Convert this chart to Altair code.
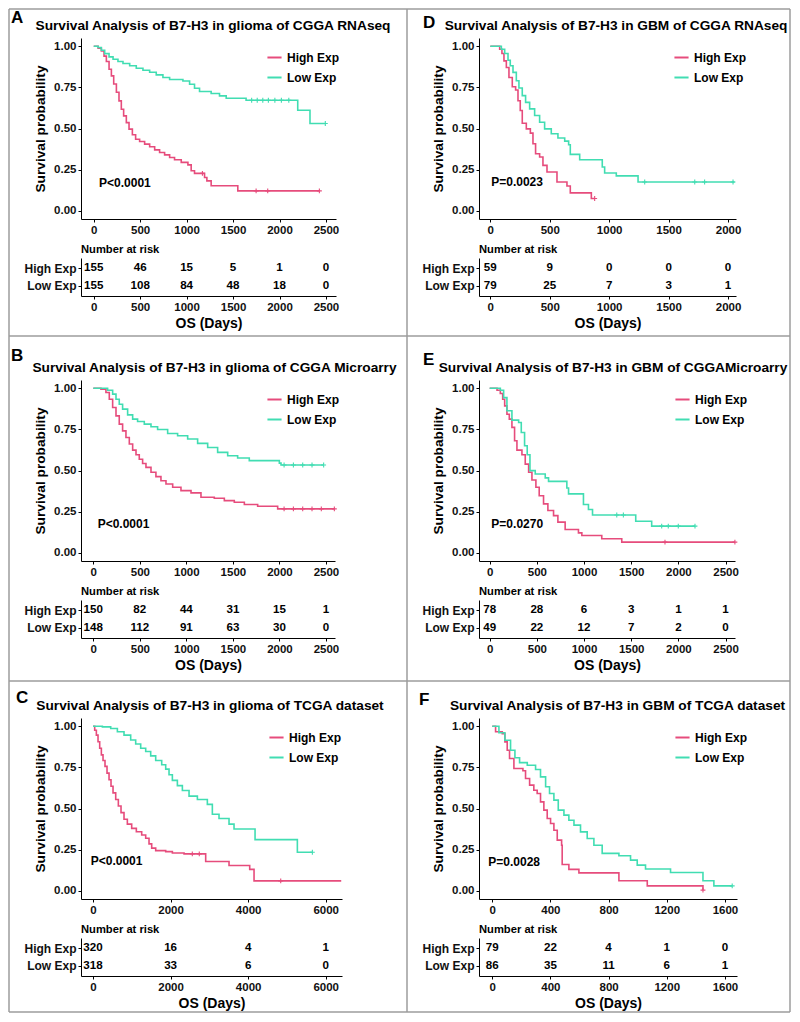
import altair as alt
import pandas as pd

FONT = "Liberation Sans"
HIGH, LOW = "High Exp", "Low Exp"
PINK, TEAL = "#E64C7C", "#41DDB2"
FRAME_COLOR = "#9C9C9C"

# ---------------- data ----------------
# Panel A: glioma, CGGA RNAseq
A_high_day = [0, 47, 82, 111, 136, 165, 190, 215, 244, 272, 297, 322, 351, 380, 416, 451, 494, 548, 602, 656,
              709, 763, 817, 870, 942, 1014, 1049, 1085, 1193, 1218, 1264, 1551, 2429]
A_high_surv = [1.0, 0.988, 0.972, 0.94, 0.907, 0.86, 0.82, 0.77, 0.72, 0.668, 0.617, 0.577, 0.536, 0.496, 0.462,
               0.435, 0.421, 0.405, 0.389, 0.37, 0.354, 0.34, 0.324, 0.31, 0.294, 0.279, 0.243, 0.227, 0.202,
               0.182, 0.152, 0.121, 0.121]
A_low_day = [0, 47, 82, 118, 165, 208, 261, 315, 387, 458, 530, 602, 673, 745, 817, 960, 1032, 1085, 1139, 1264,
             1354, 1426, 1640, 2196, 2328, 2493]
A_low_surv = [1.0, 0.992, 0.976, 0.955, 0.935, 0.921, 0.907, 0.895, 0.881, 0.866, 0.854, 0.842, 0.826, 0.81,
              0.798, 0.789, 0.769, 0.745, 0.725, 0.713, 0.698, 0.684, 0.672, 0.611, 0.53, 0.53]
A_high_cens_day = [1170, 1748, 1873, 2429]
A_high_cens_surv = [0.227, 0.121, 0.121, 0.121]
A_low_cens_day = [1700, 1760, 1820, 1880, 1950, 2020, 2100, 2493]
A_low_cens_surv = [0.672, 0.672, 0.672, 0.672, 0.672, 0.672, 0.672, 0.53]
A_risk_time = [0, 500, 1000, 1500, 2000, 2500]
A_risk_high = [155, 46, 15, 5, 1, 0]
A_risk_low = [155, 108, 84, 48, 18, 0]

# Panel D: GBM, CGGA RNAseq
D_high_day = [0, 79, 98, 115, 135, 157, 185, 213, 233, 252, 269, 303, 337, 359, 381, 415, 443, 477, 561, 645,
              673, 850, 878]
D_high_surv = [1.0, 0.982, 0.956, 0.911, 0.871, 0.81, 0.754, 0.734, 0.669, 0.609, 0.532, 0.498, 0.472, 0.407,
               0.347, 0.327, 0.276, 0.236, 0.175, 0.151, 0.109, 0.075, 0.075]
D_low_day = [0, 93, 121, 149, 168, 191, 219, 241, 269, 297, 331, 373, 415, 457, 513, 569, 626, 659, 673, 752,
             942, 962, 1060, 1243, 2056]
D_low_surv = [1.0, 0.982, 0.956, 0.915, 0.881, 0.841, 0.79, 0.746, 0.7, 0.659, 0.619, 0.579, 0.538, 0.498,
              0.468, 0.442, 0.423, 0.401, 0.343, 0.31, 0.266, 0.23, 0.212, 0.175, 0.175]
D_high_cens_day = [878]
D_high_cens_surv = [0.075]
D_low_cens_day = [1299, 1720, 1803, 2042]
D_low_cens_surv = [0.175, 0.175, 0.175, 0.175]
D_risk_time = [0, 500, 1000, 1500, 2000]
D_risk_high = [59, 9, 0, 0, 0]
D_risk_low = [79, 25, 7, 3, 1]

# Panel B: glioma, CGGA Microarray
B_high_day = [0, 82, 136, 172, 208, 244, 279, 315, 351, 387, 423, 459, 494, 530, 566, 620, 673, 727, 781, 853,
              942, 1050, 1157, 1300, 1408, 1515, 1623, 1766, 1981, 2590]
B_high_surv = [1.0, 0.994, 0.974, 0.933, 0.883, 0.832, 0.782, 0.741, 0.701, 0.661, 0.624, 0.596, 0.568, 0.543,
               0.519, 0.489, 0.463, 0.438, 0.418, 0.398, 0.378, 0.364, 0.337, 0.331, 0.317, 0.307, 0.293, 0.283,
               0.267, 0.267]
B_low_day = [0, 154, 208, 244, 279, 315, 369, 423, 476, 548, 620, 691, 799, 906, 1014, 1121, 1229, 1336, 1444,
             1551, 1676, 1999, 2017, 2475]
B_low_surv = [1.0, 0.988, 0.964, 0.933, 0.903, 0.873, 0.838, 0.812, 0.798, 0.782, 0.766, 0.749, 0.725, 0.711,
              0.691, 0.665, 0.64, 0.61, 0.59, 0.576, 0.56, 0.545, 0.533, 0.533]
B_high_cens_day = [2050, 2150, 2250, 2350, 2450, 2590]
B_high_cens_surv = [0.267, 0.267, 0.267, 0.267, 0.267, 0.267]
B_low_cens_day = [2050, 2150, 2250, 2350, 2475]
B_low_cens_surv = [0.533, 0.533, 0.533, 0.533, 0.533]
B_risk_time = [0, 500, 1000, 1500, 2000, 2500]
B_risk_high = [150, 82, 44, 31, 15, 1]
B_risk_low = [148, 112, 91, 63, 30, 0]

# Panel E: GBM, CGGA Microarray
E_high_day = [0, 78, 113, 138, 159, 183, 208, 236, 264, 289, 342, 377, 413, 448, 490, 525, 571, 617, 677, 723,
              800, 941, 977, 1188, 1400, 2599]
E_high_surv = [1.0, 0.988, 0.968, 0.933, 0.893, 0.842, 0.812, 0.762, 0.681, 0.624, 0.596, 0.539, 0.489, 0.442,
               0.398, 0.347, 0.297, 0.257, 0.226, 0.186, 0.141, 0.121, 0.105, 0.085, 0.065, 0.065]
E_low_day = [0, 113, 148, 183, 236, 307, 335, 370, 398, 427, 483, 589, 624, 818, 836, 994, 1047, 1090, 1548,
             1717, 2176]
E_low_surv = [1.0, 0.988, 0.943, 0.863, 0.806, 0.792, 0.731, 0.65, 0.596, 0.499, 0.479, 0.455, 0.434, 0.394,
              0.358, 0.293, 0.263, 0.23, 0.192, 0.162, 0.162]
E_high_cens_day = [1858, 2599]
E_high_cens_surv = [0.065, 0.065]
E_low_cens_day = [1347, 1417, 1823, 1893, 1999, 2176]
E_low_cens_surv = [0.23, 0.23, 0.162, 0.162, 0.162, 0.162]
E_risk_time = [0, 500, 1000, 1500, 2000, 2500]
E_risk_high = [78, 28, 6, 3, 1, 1]
E_risk_low = [49, 22, 12, 7, 2, 0]

# Panel C: glioma, TCGA
C_high_day = [0, 43, 86, 129, 172, 215, 258, 309, 361, 413, 464, 516, 585, 653, 722, 799, 885, 997, 1117, 1255,
              1358, 1444, 1513, 1616, 1874, 2046, 2347, 2905, 3507, 4040, 4152, 6400]
C_high_surv = [1.0, 0.976, 0.946, 0.906, 0.866, 0.826, 0.792, 0.756, 0.715, 0.675, 0.635, 0.595, 0.555, 0.515,
               0.475, 0.435, 0.405, 0.379, 0.359, 0.339, 0.319, 0.285, 0.259, 0.244, 0.238, 0.23, 0.224, 0.178,
               0.154, 0.13, 0.06, 0.06]
C_low_day = [0, 241, 456, 628, 799, 971, 1100, 1229, 1358, 1487, 1616, 1771, 1874, 1960, 2046, 2175, 2304, 2476,
             2691, 2948, 3077, 3249, 3507, 3636, 4178, 5269, 5656]
C_low_surv = [1.0, 0.996, 0.986, 0.966, 0.946, 0.916, 0.892, 0.866, 0.846, 0.82, 0.792, 0.766, 0.739, 0.705,
              0.671, 0.639, 0.609, 0.575, 0.555, 0.525, 0.465, 0.439, 0.405, 0.375, 0.311, 0.234, 0.234]
C_high_cens_day = [2560, 2740, 4840]
C_high_cens_surv = [0.224, 0.224, 0.06]
C_low_cens_day = [5656]
C_low_cens_surv = [0.234]
C_risk_time = [0, 2000, 4000, 6000]
C_risk_high = [320, 16, 4, 1]
C_risk_low = [318, 33, 6, 0]

# Panel F: GBM, TCGA
F_high_day = [0, 23, 69, 87, 103, 119, 149, 211, 229, 257, 286, 309, 332, 355, 378, 401, 424, 447, 477, 481,
              527, 596, 871, 1066, 1449]
F_high_surv = [1.0, 0.966, 0.955, 0.905, 0.854, 0.804, 0.743, 0.729, 0.682, 0.642, 0.611, 0.591, 0.54, 0.49,
               0.439, 0.409, 0.368, 0.308, 0.277, 0.16, 0.13, 0.109, 0.061, 0.03, 0.004]
F_low_day = [0, 46, 87, 126, 156, 188, 241, 298, 332, 367, 394, 424, 454, 493, 527, 562, 607, 653, 699, 756,
             871, 951, 997, 1054, 1226, 1449, 1524, 1650]
F_low_surv = [1.0, 0.96, 0.915, 0.854, 0.808, 0.779, 0.763, 0.737, 0.692, 0.632, 0.591, 0.551, 0.49, 0.46,
              0.429, 0.399, 0.358, 0.318, 0.277, 0.227, 0.213, 0.186, 0.156, 0.132, 0.111, 0.061, 0.03, 0.03]
F_high_cens_day = [1449]
F_high_cens_surv = [0.004]
F_low_cens_day = [1650]
F_low_cens_surv = [0.03]
F_risk_time = [0, 400, 800, 1200, 1600]
F_risk_high = [79, 22, 4, 1, 0]
F_risk_low = [86, 35, 11, 6, 1]

TITLES = {
    "A": "Survival Analysis of  B7-H3 in glioma of CGGA RNAseq",
    "D": "Survival Analysis of B7-H3 in GBM of CGGA RNAseq",
    "B": "Survival Analysis of B7-H3 in glioma of CGGA Microarry",
    "E": "Survival Analysis of B7-H3 in GBM of CGGAMicroarry",
    "C": "Survival Analysis of B7-H3 in glioma of TCGA dataset",
    "F": "Survival Analysis of B7-H3 in GBM of TCGA dataset",
}
PVALS = {"A": "P<0.0001", "D": "P=0.0023", "B": "P<0.0001", "E": "P=0.0270", "C": "P<0.0001", "F": "P=0.0028"}
PVAL_POS = {"A": (57, 0.166), "D": (8, 0.175), "B": (47, 0.176), "E": (18, 0.172), "C": (-60, 0.18), "F": (-27, 0.172)}

# ---------------- layout (pixels) ----------------
WIDTH = {"A": 255, "D": 257, "B": 254, "E": 256, "C": 261, "F": 258}
XDOM = {"A": [-137, 2608], "D": [-95, 2067], "B": [-132, 2597], "E": [-113, 2600], "C": [-310, 6420], "F": [-91, 1683]}
TITLE_DX = {"A": 4.5, "D": 8.5, "B": 6.5, "E": 6, "C": -1.5, "F": 9.5}
LEGEND_X = {"A": 185, "D": 194, "B": 185, "E": 195, "C": 187, "F": 195}
KM_H = 181
RISK_H = 38

PANELS = {
    "A": (A_high_day, A_high_surv, A_low_day, A_low_surv, A_high_cens_day, A_high_cens_surv, A_low_cens_day,
          A_low_cens_surv, A_risk_time, A_risk_high, A_risk_low),
    "D": (D_high_day, D_high_surv, D_low_day, D_low_surv, D_high_cens_day, D_high_cens_surv, D_low_cens_day,
          D_low_cens_surv, D_risk_time, D_risk_high, D_risk_low),
    "B": (B_high_day, B_high_surv, B_low_day, B_low_surv, B_high_cens_day, B_high_cens_surv, B_low_cens_day,
          B_low_cens_surv, B_risk_time, B_risk_high, B_risk_low),
    "E": (E_high_day, E_high_surv, E_low_day, E_low_surv, E_high_cens_day, E_high_cens_surv, E_low_cens_day,
          E_low_cens_surv, E_risk_time, E_risk_high, E_risk_low),
    "C": (C_high_day, C_high_surv, C_low_day, C_low_surv, C_high_cens_day, C_high_cens_surv, C_low_cens_day,
          C_low_cens_surv, C_risk_time, C_risk_high, C_risk_low),
    "F": (F_high_day, F_high_surv, F_low_day, F_low_surv, F_high_cens_day, F_high_cens_surv, F_low_cens_day,
          F_low_cens_surv, F_risk_time, F_risk_high, F_risk_low),
}


def km_chart(key):
    hd, hs, ld, ls, hcd, hcs, lcd, lcs, rt, rh, rl = PANELS[key]
    curve = pd.DataFrame(
        [{"day": d, "surv": s, "grp": HIGH} for d, s in zip(hd, hs)]
        + [{"day": d, "surv": s, "grp": LOW} for d, s in zip(ld, ls)]
    )
    cens = pd.DataFrame(
        [{"day": d, "surv": s, "grp": HIGH} for d, s in zip(hcd, hcs)]
        + [{"day": d, "surv": s, "grp": LOW} for d, s in zip(lcd, lcs)]
    )
    ptxt = pd.DataFrame({"day": [PVAL_POS[key][0]], "surv": [PVAL_POS[key][1]], "lab": [PVALS[key]]})

    x_enc = alt.X("day:Q", scale=alt.Scale(domain=XDOM[key], nice=False, zero=False),
                  axis=alt.Axis(values=rt, title=None, format="d"))
    y_enc = alt.Y("surv:Q", scale=alt.Scale(domain=[-0.05, 1.05], nice=False, zero=False),
                  axis=alt.Axis(values=[0, 0.25, 0.5, 0.75, 1.0], format=".2f", title="Survival probability",
                                titleFontSize=13.7, titleFontWeight="bold", titlePadding=6))
    color = alt.Color("grp:N", scale=alt.Scale(domain=[HIGH, LOW], range=[PINK, TEAL]),
                      legend=alt.Legend(title=None, orient="none", legendX=LEGEND_X[key], legendY=11,
                                        symbolType="stroke", symbolSize=200, symbolStrokeWidth=2,
                                        labelFontSize=12, labelFontWeight="bold", labelFont=FONT,
                                        labelColor="black", rowPadding=5, labelOffset=4, padding=0))
    lines = alt.Chart(curve).mark_line(interpolate="step-after", strokeWidth=1.6).encode(
        x=x_enc, y=y_enc, color=color)
    marks = alt.Chart(cens).mark_point(shape="M-1,0L1,0M0,-1L0,1", filled=False, size=24, strokeWidth=1.1,
                                       opacity=1).encode(x=x_enc, y=y_enc, color=color)
    text = alt.Chart(ptxt).mark_text(align="left", baseline="middle", fontSize=12, fontWeight="bold",
                                     color="black").encode(x=x_enc, y=y_enc, text="lab:N")
    return alt.layer(lines, marks, text).properties(
        width=WIDTH[key], height=KM_H,
        title=alt.TitleParams(TITLES[key], fontSize=13.7, fontWeight="bold", anchor="middle",
                              dx=TITLE_DX[key], offset=5, color="black"))


def risk_chart(key):
    rt, rh, rl = PANELS[key][8:]
    df = pd.DataFrame(
        [{"day": t, "grp": HIGH, "n": str(n)} for t, n in zip(rt, rh)]
        + [{"day": t, "grp": LOW, "n": str(n)} for t, n in zip(rt, rl)]
    )
    return alt.Chart(df).mark_text(fontSize=11.6, fontWeight="bold", align="center", baseline="middle",
                                   color="black").encode(
        x=alt.X("day:Q", scale=alt.Scale(domain=XDOM[key], nice=False, zero=False),
                axis=alt.Axis(values=rt, format="d", title="OS (Days)", titleFontSize=14,
                              titleFontWeight="bold", titlePadding=4)),
        y=alt.Y("grp:N", scale=alt.Scale(type="point", domain=[HIGH, LOW], padding=0.6),
                axis=alt.Axis(title=None, labelFontSize=12, labelPadding=2)),
        text="n:N",
    ).properties(
        width=WIDTH[key], height=RISK_H,
        title=alt.TitleParams("Number at risk", anchor="start", frame="group", fontSize=11.2,
                              fontWeight="bold", offset=3, color="black"))


ONE = pd.DataFrame({"k": [0]})


def hrule(x1, x2, y):
    return alt.Chart(ONE).mark_rule(color=FRAME_COLOR, strokeWidth=1.5).encode(
        x=alt.value(x1), x2=alt.value(x2), y=alt.value(y))


def vrule(x, y1, y2):
    return alt.Chart(ONE).mark_rule(color=FRAME_COLOR, strokeWidth=1.5).encode(
        x=alt.value(x), y=alt.value(y1), y2=alt.value(y2))


def letter(ch, x, y):
    return alt.Chart(ONE).mark_text(text=ch, fontSize=17, fontWeight="bold", align="left",
                                    baseline="middle", color="black").encode(x=alt.value(x), y=alt.value(y))


# frame lines, relative to the first separator strip (left column)
H_LINES = [(-72, 709, -326), (-72, 709, 1), (-72, 709, 346), (-72, 709, 677)]
V_LINES = [(-72, -326, 677), (326, -326, 677), (709, -326, 677)]

strip1L = alt.layer(*[hrule(*h) for h in H_LINES], *[vrule(*v) for v in V_LINES],
                    letter("A", -70, -317), letter("B", -70, 21)).properties(width=255, height=6)
strip1R = alt.layer(letter("D", -56, -312), letter("E", -56, 25)).properties(width=257, height=6)
strip2L = alt.layer(letter("C", -65, 21)).properties(width=255, height=2)
strip2R = alt.layer(letter("F", -60, 23)).properties(width=257, height=2)

cells = [
    km_chart("A"), km_chart("D"),
    risk_chart("A"), risk_chart("D"),
    strip1L, strip1R,
    km_chart("B"), km_chart("E"),
    risk_chart("B"), risk_chart("E"),
    strip2L, strip2R,
    km_chart("C"), km_chart("F"),
    risk_chart("C"), risk_chart("F"),
]

chart = alt.concat(
    *cells, columns=2, spacing={"row": 39, "column": 137}, bounds="flush", align="each"
).resolve_scale(
    x="independent", y="independent", color="independent"
).resolve_legend(color="independent").properties(
    padding=0
).configure(
    font=FONT, background="white"
).configure_view(
    stroke=None
).configure_axis(
    domainColor="black", tickColor="black", labelColor="#111111", titleColor="black",
    labelFont=FONT, titleFont=FONT, grid=False, tickSize=3, labelFontSize=11.5, labelFontWeight="bold",
    domainWidth=1, tickWidth=1, labelPadding=2, labelFlush=False, labelOverlap=False,
).configure_title(font=FONT)

chart.save("out.html", embed_options={"renderer": "svg", "actions": False})
